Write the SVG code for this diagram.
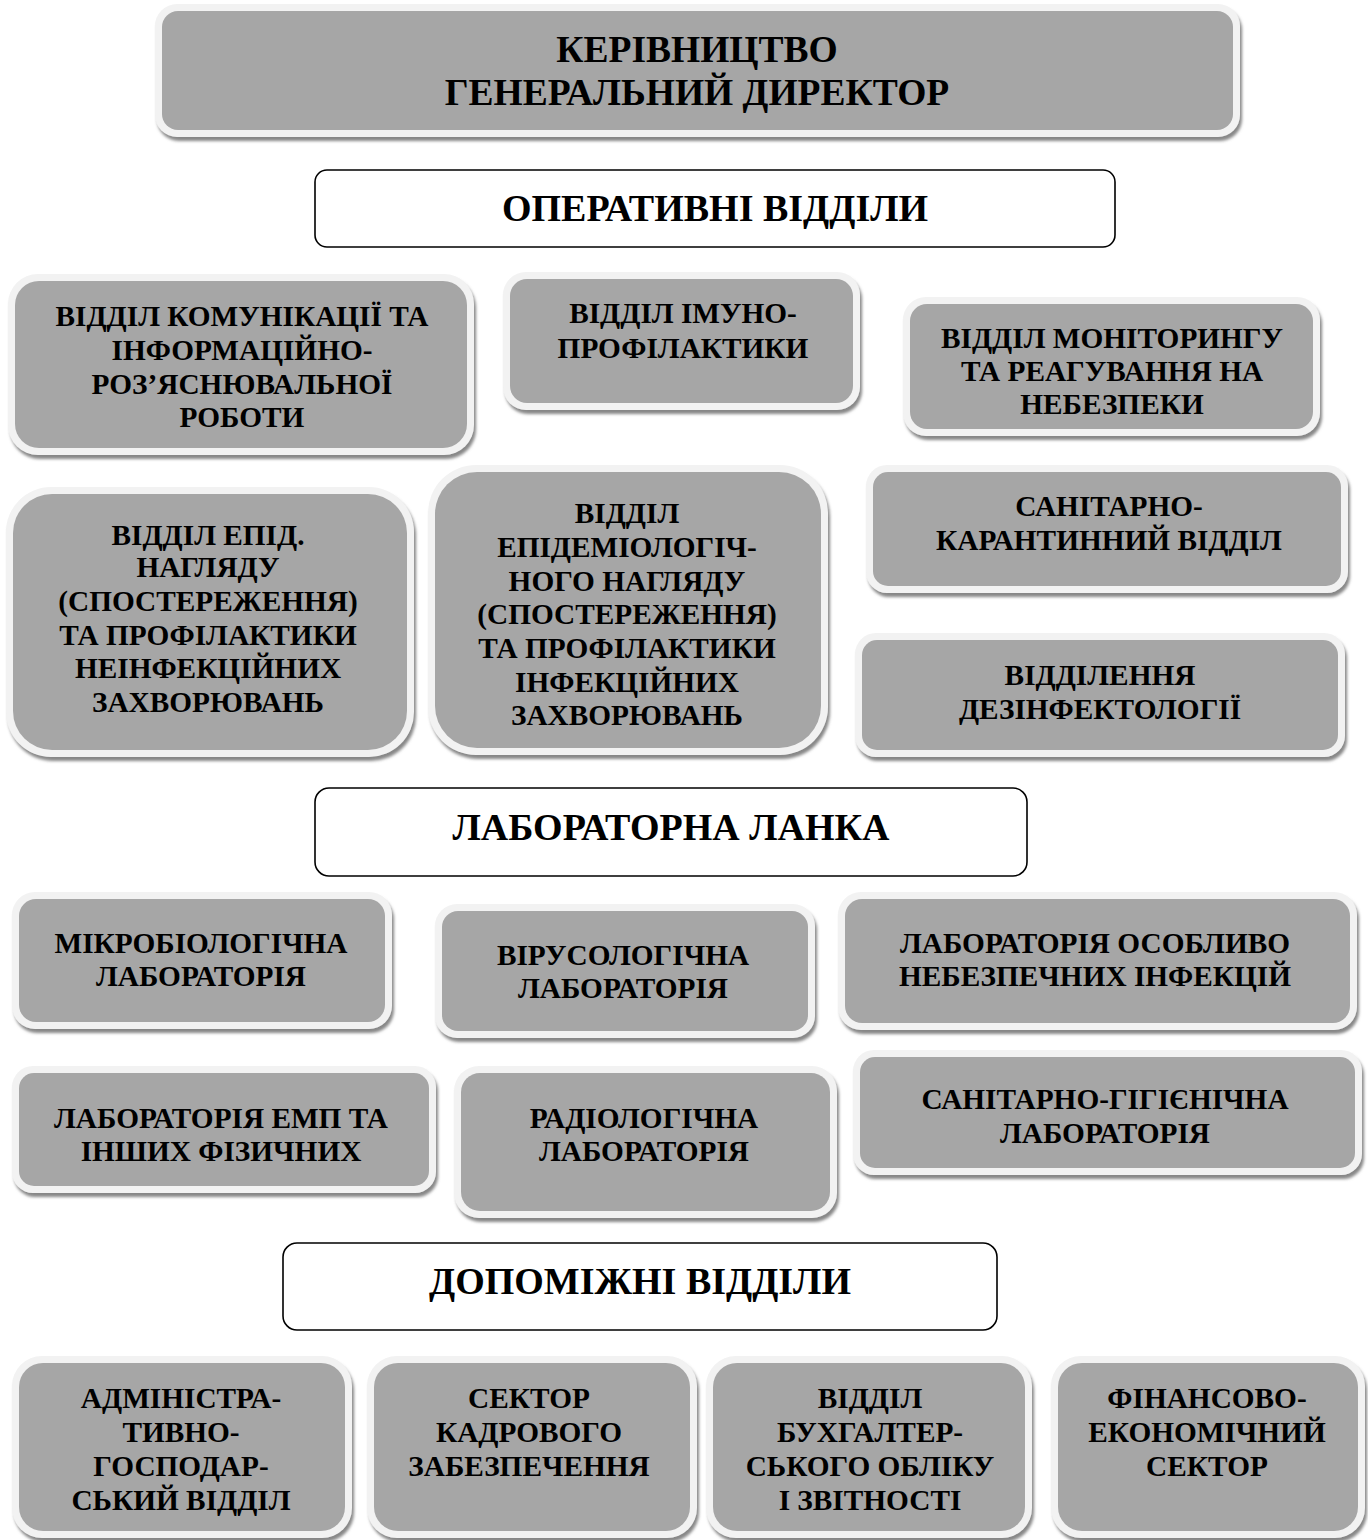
<svg xmlns="http://www.w3.org/2000/svg" width="1368" height="1540" viewBox="0 0 1368 1540">
<defs>
<filter id="sh" x="-5%" y="-5%" width="110%" height="115%">
<feDropShadow dx="2" dy="4" stdDeviation="1.5" flood-color="#7a7a7a" flood-opacity="0.9"/>
</filter>
<style>
.o{fill:#f2f2f2;filter:url(#sh)}
.i{fill:#a6a6a6}
.h{fill:#ffffff;stroke:#000;stroke-width:1.6}
text{font-family:"Liberation Serif","Times New Roman",serif;font-weight:bold;fill:#000;text-anchor:middle}
.t{font-size:29.3px}
.tt{font-size:37.5px}
.ht{font-size:38px}
</style>
</defs>
<rect width="1368" height="1540" fill="#fff"/>
<g id="connectors"/>

<g id="top">
<rect class="o" x="155" y="4" width="1085" height="133" rx="22"/>
<rect class="i" x="162" y="11" width="1071" height="119" rx="16"/>
<text class="tt"><tspan x="697" y="62">КЕРІВНИЦТВО</tspan><tspan x="697" y="105">ГЕНЕРАЛЬНИЙ ДИРЕКТОР</tspan></text>
</g>

<g id="hdr-oper">
<rect class="h" x="315" y="170" width="800" height="77" rx="12"/>
<text class="ht" x="715" y="221">ОПЕРАТИВНІ ВІДДІЛИ</text>
</g>

<g id="comm">
<rect class="o" x="8" y="274" width="466" height="181" rx="30"/>
<rect class="i" x="15" y="281" width="452" height="167" rx="24"/>
<text class="t"><tspan x="242" y="326">ВІДДІЛ КОМУНІКАЦІЇ ТА</tspan><tspan x="242" y="360">ІНФОРМАЦІЙНО-</tspan><tspan x="242" y="394">РОЗ’ЯСНЮВАЛЬНОЇ</tspan><tspan x="242" y="427">РОБОТИ</tspan></text>
</g>

<g id="imuno">
<rect class="o" x="503" y="272" width="357" height="138" rx="23"/>
<rect class="i" x="510" y="279" width="343" height="124" rx="17"/>
<text class="t"><tspan x="683" y="323">ВІДДІЛ ІМУНО-</tspan><tspan x="683" y="358">ПРОФІЛАКТИКИ</tspan></text>
</g>

<g id="monitor">
<rect class="o" x="903" y="297" width="417" height="139" rx="23"/>
<rect class="i" x="910" y="304" width="403" height="125" rx="17"/>
<text class="t"><tspan x="1112" y="348">ВІДДІЛ МОНІТОРИНГУ</tspan><tspan x="1112" y="381">ТА РЕАГУВАННЯ НА</tspan><tspan x="1112" y="414">НЕБЕЗПЕКИ</tspan></text>
</g>

<g id="epid-noninf">
<rect class="o" x="6" y="487" width="408" height="270" rx="45"/>
<rect class="i" x="13" y="494" width="394" height="256" rx="39"/>
<text class="t"><tspan x="208" y="545">ВІДДІЛ ЕПІД.</tspan><tspan x="208" y="577">НАГЛЯДУ</tspan><tspan x="208" y="611">(СПОСТЕРЕЖЕННЯ)</tspan><tspan x="208" y="645">ТА ПРОФІЛАКТИКИ</tspan><tspan x="208" y="678">НЕІНФЕКЦІЙНИХ</tspan><tspan x="208" y="712">ЗАХВОРЮВАНЬ</tspan></text>
</g>

<g id="epid-inf">
<rect class="o" x="428" y="465" width="400" height="290" rx="48"/>
<rect class="i" x="435" y="472" width="386" height="276" rx="42"/>
<text class="t"><tspan x="627" y="523">ВІДДІЛ</tspan><tspan x="627" y="557">ЕПІДЕМІОЛОГІЧ-</tspan><tspan x="627" y="591">НОГО НАГЛЯДУ</tspan><tspan x="627" y="624">(СПОСТЕРЕЖЕННЯ)</tspan><tspan x="627" y="658">ТА ПРОФІЛАКТИКИ</tspan><tspan x="627" y="692">ІНФЕКЦІЙНИХ</tspan><tspan x="627" y="725">ЗАХВОРЮВАНЬ</tspan></text>
</g>

<g id="san-quar">
<rect class="o" x="866" y="465" width="482" height="128" rx="21"/>
<rect class="i" x="873" y="472" width="468" height="114" rx="15"/>
<text class="t"><tspan x="1109" y="516">САНІТАРНО-</tspan><tspan x="1109" y="550">КАРАНТИННИЙ ВІДДІЛ</tspan></text>
</g>

<g id="dezinf">
<rect class="o" x="855" y="633" width="490" height="124" rx="21"/>
<rect class="i" x="862" y="640" width="476" height="110" rx="15"/>
<text class="t"><tspan x="1100" y="685">ВІДДІЛЕННЯ</tspan><tspan x="1100" y="719">ДЕЗІНФЕКТОЛОГІЇ</tspan></text>
</g>

<g id="hdr-lab">
<rect class="h" x="315" y="788" width="712" height="88" rx="14"/>
<text class="ht" x="671" y="840">ЛАБОРАТОРНА ЛАНКА</text>
</g>

<g id="mikro">
<rect class="o" x="12" y="892" width="380" height="137" rx="23"/>
<rect class="i" x="19" y="899" width="366" height="123" rx="17"/>
<text class="t"><tspan x="201" y="953">МІКРОБІОЛОГІЧНА</tspan><tspan x="201" y="986">ЛАБОРАТОРІЯ</tspan></text>
</g>

<g id="virus">
<rect class="o" x="435" y="904" width="380" height="134" rx="22"/>
<rect class="i" x="442" y="911" width="366" height="120" rx="16"/>
<text class="t"><tspan x="623" y="965">ВІРУСОЛОГІЧНА</tspan><tspan x="623" y="998">ЛАБОРАТОРІЯ</tspan></text>
</g>

<g id="osob">
<rect class="o" x="838" y="892" width="519" height="138" rx="23"/>
<rect class="i" x="845" y="899" width="505" height="124" rx="17"/>
<text class="t"><tspan x="1095" y="953">ЛАБОРАТОРІЯ ОСОБЛИВО</tspan><tspan x="1095" y="986">НЕБЕЗПЕЧНИХ ІНФЕКЦІЙ</tspan></text>
</g>

<g id="emp">
<rect class="o" x="12" y="1066" width="424" height="127" rx="21"/>
<rect class="i" x="19" y="1073" width="410" height="113" rx="15"/>
<text class="t"><tspan x="221" y="1128">ЛАБОРАТОРІЯ ЕМП ТА</tspan><tspan x="221" y="1161">ІНШИХ ФІЗИЧНИХ</tspan></text>
</g>

<g id="radio">
<rect class="o" x="454" y="1066" width="383" height="152" rx="25"/>
<rect class="i" x="461" y="1073" width="369" height="138" rx="19"/>
<text class="t"><tspan x="644" y="1128">РАДІОЛОГІЧНА</tspan><tspan x="644" y="1161">ЛАБОРАТОРІЯ</tspan></text>
</g>

<g id="san-hyg">
<rect class="o" x="853" y="1050" width="509" height="125" rx="21"/>
<rect class="i" x="860" y="1057" width="495" height="111" rx="15"/>
<text class="t"><tspan x="1105" y="1109">САНІТАРНО-ГІГІЄНІЧНА</tspan><tspan x="1105" y="1143">ЛАБОРАТОРІЯ</tspan></text>
</g>

<g id="hdr-aux">
<rect class="h" x="283" y="1243" width="714" height="87" rx="14"/>
<text class="ht" x="640" y="1294">ДОПОМІЖНІ ВІДДІЛИ</text>
</g>

<g id="admin">
<rect class="o" x="12" y="1356" width="340" height="182" rx="30"/>
<rect class="i" x="19" y="1363" width="326" height="168" rx="24"/>
<text class="t"><tspan x="181" y="1408">АДМІНІСТРА-</tspan><tspan x="181" y="1442">ТИВНО-</tspan><tspan x="181" y="1476">ГОСПОДАР-</tspan><tspan x="181" y="1510">СЬКИЙ ВІДДІЛ</tspan></text>
</g>

<g id="kadry">
<rect class="o" x="367" y="1356" width="330" height="182" rx="30"/>
<rect class="i" x="374" y="1363" width="316" height="168" rx="24"/>
<text class="t"><tspan x="529" y="1408">СЕКТОР</tspan><tspan x="529" y="1442">КАДРОВОГО</tspan><tspan x="529" y="1476">ЗАБЕЗПЕЧЕННЯ</tspan></text>
</g>

<g id="buh">
<rect class="o" x="706" y="1356" width="326" height="182" rx="30"/>
<rect class="i" x="713" y="1363" width="312" height="168" rx="24"/>
<text class="t"><tspan x="870" y="1408">ВІДДІЛ</tspan><tspan x="870" y="1442">БУХГАЛТЕР-</tspan><tspan x="870" y="1476">СЬКОГО ОБЛІКУ</tspan><tspan x="870" y="1510">І ЗВІТНОСТІ</tspan></text>
</g>

<g id="fin">
<rect class="o" x="1051" y="1356" width="314" height="182" rx="30"/>
<rect class="i" x="1058" y="1363" width="300" height="168" rx="24"/>
<text class="t"><tspan x="1207" y="1408">ФІНАНСОВО-</tspan><tspan x="1207" y="1442">ЕКОНОМІЧНИЙ</tspan><tspan x="1207" y="1476">СЕКТОР</tspan></text>
</g>
</svg>
